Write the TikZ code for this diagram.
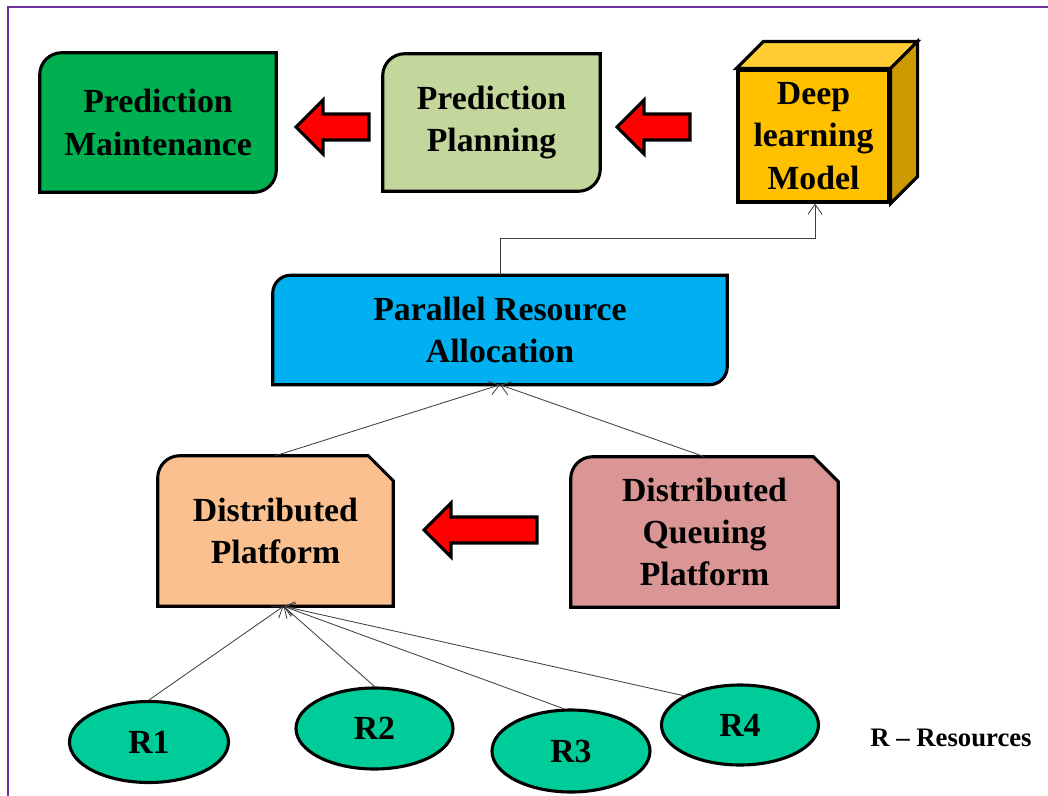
\documentclass[tikz,border=0pt]{standalone}
\usepackage{fontspec}
\setmainfont{Liberation Serif}
\usetikzlibrary{arrows.meta,calc,positioning,shapes.geometric,backgrounds}

\definecolor{pmgreen}{HTML}{00B050}
\definecolor{ppgreen}{HTML}{C3D69B}
\definecolor{cubefront}{HTML}{FFC000}
\definecolor{cubetop}{HTML}{FFCD33}
\definecolor{cubeside}{HTML}{CC9A00}
\definecolor{prablue}{HTML}{00B0F0}
\definecolor{dporange}{HTML}{FAC090}
\definecolor{dqppink}{HTML}{D99694}
\definecolor{resgreen}{HTML}{00CC99}
\definecolor{framepurple}{HTML}{7030A0}

\def\px{0.025cm}

\tikzset{
  boxline/.style={draw=black, line width=2.2pt},
  boxtext/.style={font=\fontsize{24}{30}\selectfont\bfseries, align=center, inner sep=0pt},
  redarrow/.style={boxline, fill=red, line join=miter},
  res/.style={ellipse, boxline, fill=resgreen, inner sep=0pt,
    font=\fontsize{24}{30}\selectfont\bfseries},
  conn/.style={draw=black!75, line width=0.6pt, -{Straight Barb[length=2.5mm,width=3.5mm]}},
}

% rounded top left and bottom right corners
\newcommand{\rdoutline}[3]{%
  \filldraw[boxline, fill=#2] ($(#1.north west)+(0,#3)$) arc (180:270:#3)
    -- (#1.north east) -- ($(#1.south east)-(0,#3)$) arc (0:90:#3)
    -- (#1.south west) -- cycle;}
% rounded top left and snipped top right corner
\newcommand{\snipoutline}[4]{%
  \filldraw[boxline, fill=#2] ($(#1.north west)+(0,#3)$) arc (180:270:#3)
    -- ($(#1.north east)-(#4,0)$) -- ($(#1.north east)+(0,#4)$)
    -- (#1.south east) -- (#1.south west) -- cycle;}
% left pointing block arrow: tip x, tip y, length
\newcommand{\leftarrowblock}[3]{%
  \filldraw[redarrow] (#1,#2) -- ++(27,-27) -- ++(0,14) -- (#1+#3,#2-13)
    -- (#1+#3,#2+13) -- (#1+27,#2+13) -- ++(0,14) -- cycle;}

\begin{document}
\begin{tikzpicture}[x=0.025cm, y=-0.025cm]
    \useasboundingbox (0,0) rectangle (1048,796);
    \clip (0,0) rectangle (1048,796);
    \draw[framepurple, line width=1pt] (8,7) rectangle (1070,820);

    \node(pm) [boxtext, minimum width=236*\px, minimum height=139*\px] at (158,122.5) {Prediction\\Maintenance};
    \node(pp) [boxtext, minimum width=217*\px, minimum height=137*\px] at (491.5,122.5) {Prediction\\Planning};
    \node(dlm) [boxtext, boxline, fill=cubefront, minimum width=151*\px, minimum height=132*\px] at (813.5,136) {Deep\\learning\\Model};
    \node(pra) [boxtext, minimum width=454*\px, minimum height=109*\px] at (500,330) {Parallel Resource\\Allocation};
    \node(dp) [boxtext, minimum width=235*\px, minimum height=150*\px] at (275.5,531) {Distributed\\Platform};
    \node(dqp) [boxtext, minimum width=267*\px, minimum height=150*\px] at (704.5,532) {Distributed\\Queuing\\Platform};

    \node(r1) [res, minimum width=159*\px, minimum height=81*\px] at (149,742) {R1};
    \node(r2) [res, minimum width=157*\px, minimum height=81*\px] at (374.5,728.5) {R2};
    \node(r3) [res, minimum width=158*\px, minimum height=82*\px] at (571,751) {R3};
    \node(r4) [res, minimum width=157*\px, minimum height=80*\px] at (740,725) {R4};
    \node(legend) [font=\fontsize{19}{23}\selectfont\bfseries, inner sep=0pt] at (951,738) {R -- Resources};

    \begin{pgfonlayer}{background}
        \rdoutline{pm}{pmgreen}{22}
        \rdoutline{pp}{ppgreen}{22}
        \rdoutline{pra}{prablue}{18}
        \snipoutline{dp}{dporange}{22}{25}
        \snipoutline{dqp}{dqppink}{22}{25}
    \end{pgfonlayer}
    \filldraw[boxline, fill=cubetop] (dlm.north west) -- ++(27,-27) -- ($(dlm.north east)+(27,-27)$) -- (dlm.north east) -- cycle;
    \filldraw[boxline, fill=cubeside] (dlm.north east) -- ++(27,-27) -- ($(dlm.south east)+(27,-27)$) -- (dlm.south east) -- cycle;

    \leftarrowblock{296}{127}{73}
    \leftarrowblock{617}{127}{73}
    \leftarrowblock{424}{530}{113}

    \coordinate (rin) at ($(dp.south)+(8,0)$);
    \draw[conn] (pra.north) -- ++(0,-37) -| ([xshift=1.5*\px]dlm.south);
    \draw[conn] (dp.north) -- (pra.south);
    \draw[conn] (dqp.north) -- (pra.south);
    \draw[conn] (r1.north) -- (rin);
    \draw[conn] (r2.north) -- (rin);
    \draw[conn] (r3.100) -- (rin);
    \draw[conn] (r4.north west) -- (rin);

\end{tikzpicture}
\end{document}
